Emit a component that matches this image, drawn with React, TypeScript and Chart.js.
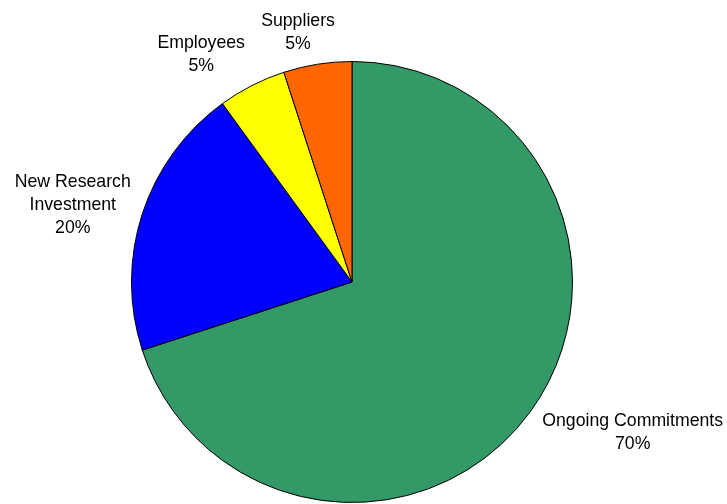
import React, { useEffect, useRef } from "react";
import { Chart, registerables } from "chart.js";

Chart.register(...registerables);

const categories: string[][] = [
  ["Ongoing Commitments"],
  ["New Research", "Investment"],
  ["Employees"],
  ["Suppliers"],
];
const values: number[] = [70, 20, 5, 5];
const colors: string[] = ["#339966", "#0000FF", "#FFFF00", "#FF6600"];

// label placement: angular nudge (deg) and distance beyond outer radius (px)
const labelAngleShift: number[] = [-7.8, -2.7, -6.6, -3.2];
const labelGap: number[] = [98, 69, 52, 35];

const labelPlugin = {
  id: "pieLabels",
  afterDatasetsDraw(chart: any) {
    const ctx = chart.ctx;
    const meta = chart.getDatasetMeta(0);
    const data = chart.data.datasets[0].data as number[];
    const total = data.reduce((a, b) => a + b, 0);
    ctx.save();
    ctx.font = '17.7px "Liberation Sans", Arial, sans-serif';
    ctx.fillStyle = "#000";
    ctx.textAlign = "center";
    ctx.textBaseline = "middle";
    const lh = 23;
    meta.data.forEach((arc: any, i: number) => {
      const p = arc.getProps(["x", "y", "startAngle", "endAngle", "outerRadius"], true);
      const mid = (p.startAngle + p.endAngle) / 2 + (labelAngleShift[i] * Math.PI) / 180;
      const d = p.outerRadius + labelGap[i];
      const cx = p.x + d * Math.cos(mid);
      const cy = p.y + d * Math.sin(mid);
      const lines = [...(chart.data.labels[i] as string[]), Math.round((data[i] / total) * 100) + "%"];
      const top = cy - ((lines.length - 1) * lh) / 2;
      lines.forEach((t, k) => ctx.fillText(t, cx, top + k * lh));
    });
    ctx.restore();
  },
};

export default function App() {
  const ref = useRef<HTMLCanvasElement>(null);
  useEffect(() => {
    if (!ref.current) return;
    const chart = new Chart(ref.current, {
      type: "pie",
      data: {
        labels: categories,
        datasets: [
          {
            data: values,
            backgroundColor: colors,
            borderColor: "#000",
            borderWidth: 1,
          },
        ],
      },
      options: {
        responsive: false,
        animation: false,
        layout: { padding: { top: 61, bottom: 1, left: 131, right: 154 } },
        plugins: {
          legend: { display: false },
          tooltip: { enabled: false },
        },
      },
      plugins: [labelPlugin],
    });
    return () => chart.destroy();
  }, []);
  return (
    <div style={{ position: "absolute", left: 0, top: 0, width: 727, height: 504, background: "#fff" }}>
      <canvas ref={ref} width={727} height={504} />
    </div>
  );
}
